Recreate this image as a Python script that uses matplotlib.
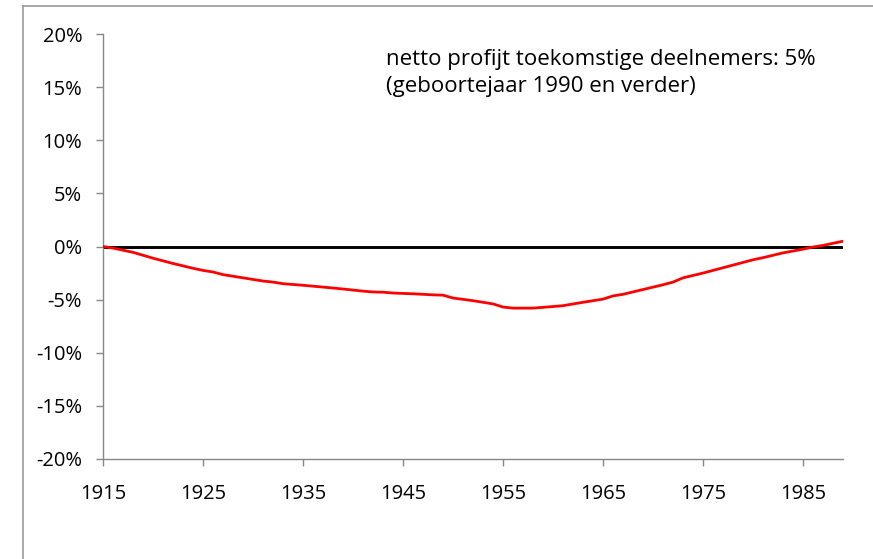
import matplotlib
matplotlib.use("Agg")
import matplotlib.pyplot as plt
from matplotlib.lines import Line2D
from matplotlib.ticker import FuncFormatter

plt.rcParams['font.family'] = ['Open Sans', 'DejaVu Sans']

years = [1915, 1916, 1918, 1920, 1922, 1924, 1925, 1926, 1927, 1929, 1931, 1932,
         1933, 1935, 1937, 1939, 1941, 1942, 1943, 1944, 1946, 1947, 1948, 1949,
         1950, 1952, 1954, 1955, 1956, 1958, 1960, 1961, 1963, 1965, 1966, 1967,
         1969, 1971, 1972, 1973, 1975, 1977, 1978, 1980, 1981, 1983, 1985, 1986,
         1987, 1989]
profit = [0.0, -0.15, -0.55, -1.1, -1.6, -2.05, -2.25, -2.4, -2.65, -2.95, -3.25, -3.35,
          -3.5, -3.65, -3.82, -4.0, -4.2, -4.28, -4.3, -4.38, -4.45, -4.5, -4.55, -4.58,
          -4.85, -5.1, -5.4, -5.7, -5.8, -5.8, -5.65, -5.57, -5.25, -4.95, -4.65, -4.5,
          -4.05, -3.6, -3.35, -2.95, -2.5, -2.0, -1.75, -1.25, -1.05, -0.6, -0.25, -0.05,
          0.1, 0.5]
xticks = [1915, 1925, 1935, 1945, 1955, 1965, 1975, 1985]
yticks = [-20, -15, -10, -5, 0, 5, 10, 15, 20]
note_lines = ["netto profijt toekomstige deelnemers: 5%", "(geboortejaar 1990 en verder)"]

W, H = 873, 559
fig = plt.figure(figsize=(W / 100, H / 100), dpi=100)
ax = fig.add_axes([103 / W, 1 - 459 / H, (843 - 103) / W, (459 - 34) / H])

ax.axhline(0, color='black', lw=2.1, zorder=2)
ax.plot(years, profit, color='#ff0000', lw=2.0, zorder=3)

ax.set_xlim(1915, 1989)
ax.set_ylim(-20, 20)
ax.set_xticks(xticks)
ax.set_yticks(yticks)
ax.yaxis.set_major_formatter(FuncFormatter(lambda v, p: f"{int(v)}%"))
for s in ['top', 'right']:
    ax.spines[s].set_visible(False)
for s in ['left', 'bottom']:
    ax.spines[s].set_color('#888888')
    ax.spines[s].set_linewidth(1.0)
ax.tick_params(axis='both', colors='#888888', labelcolor='black', labelsize=14.5,
               length=5, width=1.0, direction='out')
ax.tick_params(axis='y', pad=10)
ax.tick_params(axis='x', pad=13)

for i, line in enumerate(note_lines):
    fig.text(386 / W, 1 - (65 + 27 * i) / H, line, fontsize=16, ha='left',
             va='baseline')

fig.add_artist(Line2D([23 / W, 23 / W], [0, 1 - 6 / H], color='#999999', lw=1.2,
                      transform=fig.transFigure))
fig.add_artist(Line2D([23 / W, 1], [1 - 6 / H, 1 - 6 / H], color='#999999', lw=1.2,
                      transform=fig.transFigure))

fig.savefig("out.png", dpi=100)
